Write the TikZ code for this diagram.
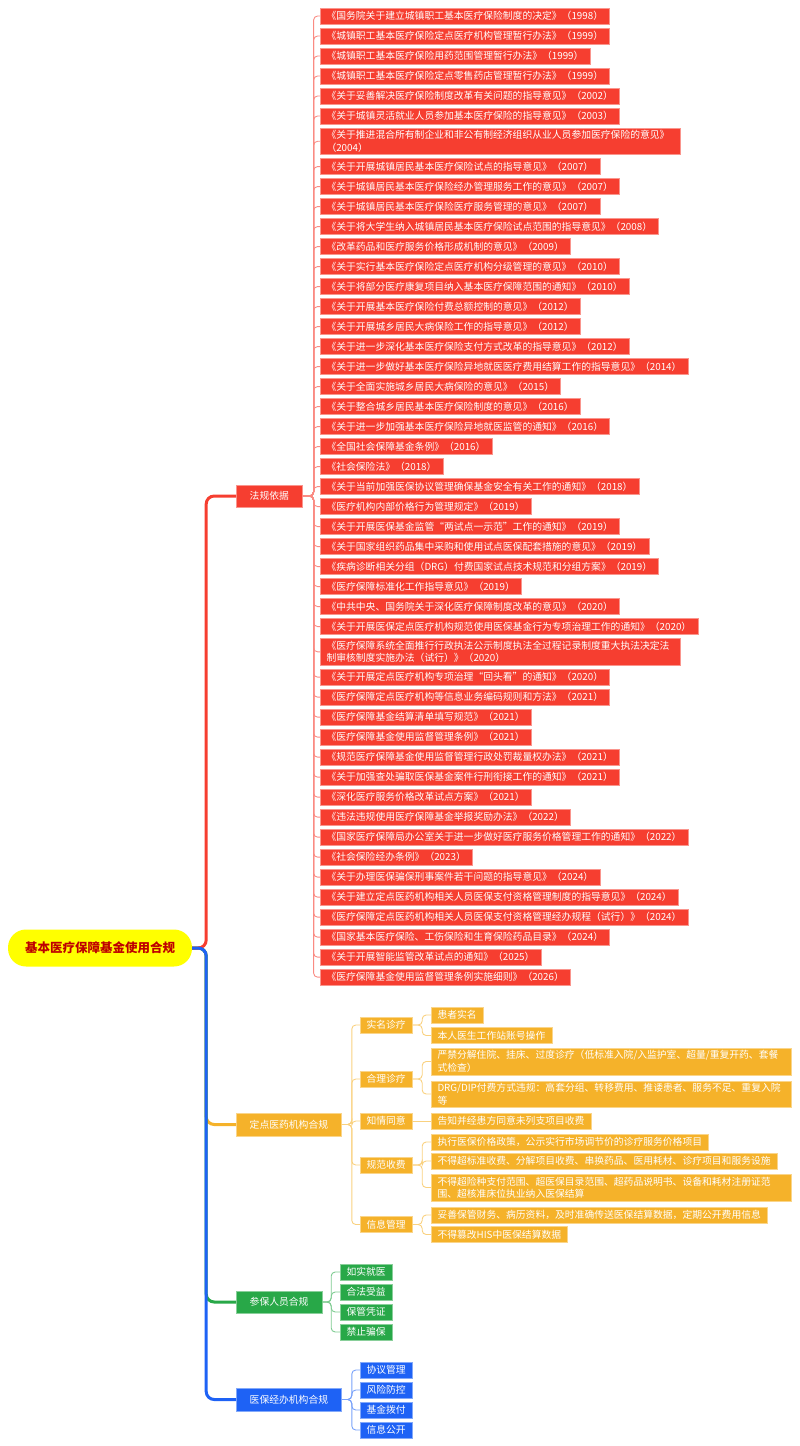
\documentclass[tikz,border=0pt]{standalone}
\usepackage{fontspec}
\setmainfont{Noto Sans CJK SC}
\usetikzlibrary{positioning}

\definecolor{rootyel}{RGB}{255,255,0}
\definecolor{rootred}{RGB}{190,0,0}
\definecolor{lawred}{RGB}{246,62,48}
\definecolor{siteorg}{RGB}{245,178,42}
\definecolor{insgrn}{RGB}{40,168,72}
\definecolor{agcblu}{RGB}{30,98,245}

\begin{document}
\begin{tikzpicture}[x=1pt, y=-1pt,
    root/.style={rectangle, rounded corners=18pt, fill=rootyel, text=rootred,
                 minimum width=184pt, minimum height=37pt,
                 font=\fontsize{12.5}{15}\selectfont\bfseries},
    topic/.style={rectangle, fill=#1, draw=#1!55!white, text=white, anchor=west,
                  inner xsep=13.5pt, minimum height=22.5pt,
                  font=\fontsize{9.8}{12.5}\selectfont},
    leaf/.style={rectangle, fill=#1, draw=#1!55!white, text=white, anchor=west,
                 inner xsep=6.5pt, inner ysep=1pt, outer sep=0pt, minimum height=16pt,
                 font=\fontsize{9.8}{12.5}\selectfont},
    wide/.style={text width=347pt, align=left, inner ysep=2.4pt},
    next/.style={below=4pt of #1.south west, anchor=north west},
    trunk/.style={draw=#1, line width=3pt, rounded corners=8pt},
    link/.style={draw=#1!60!white, line width=0.9pt, rounded corners=4pt},
]
\useasboundingbox (0,0) rectangle (800,1446);

% ---------- Root + main topics ----------
\node[root] (root) at (100,948) {基本医疗保障基金使用合规};
\node[topic=lawred]  (law)     at (236,496)    {法规依据};
\node[topic=siteorg] (site)    at (236,1124.5) {定点医药机构合规};
\node[topic=insgrn]  (insured) at (236,1302)   {参保人员合规};
\node[topic=agcblu]  (agency)  at (236,1399.5) {医保经办机构合规};

% ---------- Laws and rules (top -> bottom) ----------
\node[leaf=lawred] (r1) at (320,16) {《国务院关于建立城镇职工基本医疗保险制度的决定》（1998）};
\node[leaf=lawred, next=r1]  (r2)  {《城镇职工基本医疗保险定点医疗机构管理暂行办法》（1999）};
\node[leaf=lawred, next=r2]  (r3)  {《城镇职工基本医疗保险用药范围管理暂行办法》（1999）};
\node[leaf=lawred, next=r3]  (r4)  {《城镇职工基本医疗保险定点零售药店管理暂行办法》（1999）};
\node[leaf=lawred, next=r4]  (r5)  {《关于妥善解决医疗保险制度改革有关问题的指导意见》（2002）};
\node[leaf=lawred, next=r5]  (r6)  {《关于城镇灵活就业人员参加基本医疗保险的指导意见》（2003）};
\node[leaf=lawred, wide, next=r6] (r7) {《关于推进混合所有制企业和非公有制经济组织从业人员参加医疗保险的意见》\\（2004）};
\node[leaf=lawred, next=r7]  (r8)  {《关于开展城镇居民基本医疗保险试点的指导意见》（2007）};
\node[leaf=lawred, next=r8]  (r9)  {《关于城镇居民基本医疗保险经办管理服务工作的意见》（2007）};
\node[leaf=lawred, next=r9]  (r10) {《关于城镇居民基本医疗保险医疗服务管理的意见》（2007）};
\node[leaf=lawred, next=r10] (r11) {《关于将大学生纳入城镇居民基本医疗保险试点范围的指导意见》（2008）};
\node[leaf=lawred, next=r11] (r12) {《改革药品和医疗服务价格形成机制的意见》（2009）};
\node[leaf=lawred, next=r12] (r13) {《关于实行基本医疗保险定点医疗机构分级管理的意见》（2010）};
\node[leaf=lawred, next=r13] (r14) {《关于将部分医疗康复项目纳入基本医疗保障范围的通知》（2010）};
\node[leaf=lawred, next=r14] (r15) {《关于开展基本医疗保险付费总额控制的意见》（2012）};
\node[leaf=lawred, next=r15] (r16) {《关于开展城乡居民大病保险工作的指导意见》（2012）};
\node[leaf=lawred, next=r16] (r17) {《关于进一步深化基本医疗保险支付方式改革的指导意见》（2012）};
\node[leaf=lawred, next=r17] (r18) {《关于进一步做好基本医疗保险异地就医医疗费用结算工作的指导意见》（2014）};
\node[leaf=lawred, next=r18] (r19) {《关于全面实施城乡居民大病保险的意见》（2015）};
\node[leaf=lawred, next=r19] (r20) {《关于整合城乡居民基本医疗保险制度的意见》（2016）};
\node[leaf=lawred, next=r20] (r21) {《关于进一步加强基本医疗保险异地就医监管的通知》（2016）};
\node[leaf=lawred, next=r21] (r22) {《全国社会保障基金条例》（2016）};
\node[leaf=lawred, next=r22] (r23) {《社会保险法》（2018）};
\node[leaf=lawred, next=r23] (r24) {《关于当前加强医保协议管理确保基金安全有关工作的通知》（2018）};
\node[leaf=lawred, next=r24] (r25) {《医疗机构内部价格行为管理规定》（2019）};
\node[leaf=lawred, next=r25] (r26) {《关于开展医保基金监管“两试点一示范”工作的通知》（2019）};
\node[leaf=lawred, next=r26] (r27) {《关于国家组织药品集中采购和使用试点医保配套措施的意见》（2019）};
\node[leaf=lawred, next=r27] (r28) {《疾病诊断相关分组（DRG）付费国家试点技术规范和分组方案》（2019）};
\node[leaf=lawred, next=r28] (r29) {《医疗保障标准化工作指导意见》（2019）};
\node[leaf=lawred, next=r29] (r30) {《中共中央、国务院关于深化医疗保障制度改革的意见》（2020）};
\node[leaf=lawred, next=r30] (r31) {《关于开展医保定点医疗机构规范使用医保基金行为专项治理工作的通知》（2020）};
\node[leaf=lawred, wide, next=r31] (r32) {《医疗保障系统全面推行行政执法公示制度执法全过程记录制度重大执法决定法\\制审核制度实施办法（试行）》（2020）};
\node[leaf=lawred, next=r32] (r33) {《关于开展定点医疗机构专项治理“回头看”的通知》（2020）};
\node[leaf=lawred, next=r33] (r34) {《医疗保障定点医疗机构等信息业务编码规则和方法》（2021）};
\node[leaf=lawred, next=r34] (r35) {《医疗保障基金结算清单填写规范》（2021）};
\node[leaf=lawred, next=r35] (r36) {《医疗保障基金使用监督管理条例》（2021）};
\node[leaf=lawred, next=r36] (r37) {《规范医疗保障基金使用监督管理行政处罚裁量权办法》（2021）};
\node[leaf=lawred, next=r37] (r38) {《关于加强查处骗取医保基金案件行刑衔接工作的通知》（2021）};
\node[leaf=lawred, next=r38] (r39) {《深化医疗服务价格改革试点方案》（2021）};
\node[leaf=lawred, next=r39] (r40) {《违法违规使用医疗保障基金举报奖励办法》（2022）};
\node[leaf=lawred, next=r40] (r41) {《国家医疗保障局办公室关于进一步做好医疗服务价格管理工作的通知》（2022）};
\node[leaf=lawred, next=r41] (r42) {《社会保险经办条例》（2023）};
\node[leaf=lawred, next=r42] (r43) {《关于办理医保骗保刑事案件若干问题的指导意见》（2024）};
\node[leaf=lawred, next=r43] (r44) {《关于建立定点医药机构相关人员医保支付资格管理制度的指导意见》（2024）};
\node[leaf=lawred, next=r44] (r45) {《医疗保障定点医药机构相关人员医保支付资格管理经办规程（试行）》（2024）};
\node[leaf=lawred, next=r45] (r46) {《国家基本医疗保险、工伤保险和生育保险药品目录》（2024）};
\node[leaf=lawred, next=r46] (r47) {《关于开展智能监管改革试点的通知》（2025）};
\node[leaf=lawred, next=r47] (r48) {《医疗保障基金使用监督管理条例实施细则》（2026）};

% ---------- Designated institutions ----------
\node[leaf=siteorg] (realname) at (360,1025)   {实名诊疗};
\node[leaf=siteorg] (reason)   at (360,1079)   {合理诊疗};
\node[leaf=siteorg] (consent)  at (360,1121)   {知情同意};
\node[leaf=siteorg] (charge)   at (360,1165)   {规范收费};
\node[leaf=siteorg] (infomgmt) at (360,1224.5) {信息管理};

\node[leaf=siteorg] (patient)  at (431,1015)   {患者实名};
\node[leaf=siteorg] (account)  at (431,1035.5) {本人医生工作站账号操作};
\node[leaf=siteorg, wide] (overtreat) at (431,1061.5) {严禁分解住院、挂床、过度诊疗（低标准入院/入监护室、超量/重复开药、套餐\\式检查）};
\node[leaf=siteorg, wide] (drg)  at (431,1094)   {DRG/DIP付费方式违规：高套分组、转移费用、推诿患者、服务不足、重复入院\\等};
\node[leaf=siteorg] (inform)   at (431,1121)   {告知并经患方同意未列支项目收费};
\node[leaf=siteorg] (pricepol) at (431,1142)   {执行医保价格政策，公示实行市场调节价的诊疗服务价格项目};
\node[leaf=siteorg] (overfee)  at (431,1161)   {不得超标准收费、分解项目收费、串换药品、医用耗材、诊疗项目和服务设施};
\node[leaf=siteorg, wide] (overscope) at (431,1187.5) {不得超险种支付范围、超医保目录范围、超药品说明书、设备和耗材注册证范\\围、超核准床位执业纳入医保结算};
\node[leaf=siteorg] (records)  at (431,1215)   {妥善保管财务、病历资料，及时准确传送医保结算数据，定期公开费用信息};
\node[leaf=siteorg] (nohis)    at (431,1234.5) {不得篡改HIS中医保结算数据};

% ---------- Insured persons ----------
\node[leaf=insgrn] (honest) at (340,1272) {如实就医};
\node[leaf=insgrn] (lawful) at (340,1292) {合法受益};
\node[leaf=insgrn] (keep)   at (340,1312) {保管凭证};
\node[leaf=insgrn] (nofraud)at (340,1332) {禁止骗保};

% ---------- Agencies ----------
\node[leaf=agcblu] (contract) at (360,1370) {协议管理};
\node[leaf=agcblu] (risk)     at (360,1390) {风险防控};
\node[leaf=agcblu] (payout)   at (360,1410) {基金拨付};
\node[leaf=agcblu] (publish)  at (360,1430) {信息公开};

% ---------- Trunks from root ----------
\draw[trunk=siteorg] (root.east) -- ++(14,0) |- (site.west);
\draw[trunk=insgrn]  (root.east) -- ++(14,0) |- (insured.west);
\draw[trunk=lawred]  (root.east) -- ++(14,0) |- (law.west);
\draw[trunk=agcblu]  (root.east) -- ++(14,0) |- (agency.west);

% ---------- Law links ----------
\draw[link=lawred] (law.east) -- ++(11,0) |- (r1.west);
\draw[link=lawred] (law.east) -- ++(11,0) |- (r2.west);
\draw[link=lawred] (law.east) -- ++(11,0) |- (r3.west);
\draw[link=lawred] (law.east) -- ++(11,0) |- (r4.west);
\draw[link=lawred] (law.east) -- ++(11,0) |- (r5.west);
\draw[link=lawred] (law.east) -- ++(11,0) |- (r6.west);
\draw[link=lawred] (law.east) -- ++(11,0) |- (r7.west);
\draw[link=lawred] (law.east) -- ++(11,0) |- (r8.west);
\draw[link=lawred] (law.east) -- ++(11,0) |- (r9.west);
\draw[link=lawred] (law.east) -- ++(11,0) |- (r10.west);
\draw[link=lawred] (law.east) -- ++(11,0) |- (r11.west);
\draw[link=lawred] (law.east) -- ++(11,0) |- (r12.west);
\draw[link=lawred] (law.east) -- ++(11,0) |- (r13.west);
\draw[link=lawred] (law.east) -- ++(11,0) |- (r14.west);
\draw[link=lawred] (law.east) -- ++(11,0) |- (r15.west);
\draw[link=lawred] (law.east) -- ++(11,0) |- (r16.west);
\draw[link=lawred] (law.east) -- ++(11,0) |- (r17.west);
\draw[link=lawred] (law.east) -- ++(11,0) |- (r18.west);
\draw[link=lawred] (law.east) -- ++(11,0) |- (r19.west);
\draw[link=lawred] (law.east) -- ++(11,0) |- (r20.west);
\draw[link=lawred] (law.east) -- ++(11,0) |- (r21.west);
\draw[link=lawred] (law.east) -- ++(11,0) |- (r22.west);
\draw[link=lawred] (law.east) -- ++(11,0) |- (r23.west);
\draw[link=lawred] (law.east) -- ++(11,0) |- (r24.west);
\draw[link=lawred] (law.east) -- ++(11,0) |- (r25.west);
\draw[link=lawred] (law.east) -- ++(11,0) |- (r26.west);
\draw[link=lawred] (law.east) -- ++(11,0) |- (r27.west);
\draw[link=lawred] (law.east) -- ++(11,0) |- (r28.west);
\draw[link=lawred] (law.east) -- ++(11,0) |- (r29.west);
\draw[link=lawred] (law.east) -- ++(11,0) |- (r30.west);
\draw[link=lawred] (law.east) -- ++(11,0) |- (r31.west);
\draw[link=lawred] (law.east) -- ++(11,0) |- (r32.west);
\draw[link=lawred] (law.east) -- ++(11,0) |- (r33.west);
\draw[link=lawred] (law.east) -- ++(11,0) |- (r34.west);
\draw[link=lawred] (law.east) -- ++(11,0) |- (r35.west);
\draw[link=lawred] (law.east) -- ++(11,0) |- (r36.west);
\draw[link=lawred] (law.east) -- ++(11,0) |- (r37.west);
\draw[link=lawred] (law.east) -- ++(11,0) |- (r38.west);
\draw[link=lawred] (law.east) -- ++(11,0) |- (r39.west);
\draw[link=lawred] (law.east) -- ++(11,0) |- (r40.west);
\draw[link=lawred] (law.east) -- ++(11,0) |- (r41.west);
\draw[link=lawred] (law.east) -- ++(11,0) |- (r42.west);
\draw[link=lawred] (law.east) -- ++(11,0) |- (r43.west);
\draw[link=lawred] (law.east) -- ++(11,0) |- (r44.west);
\draw[link=lawred] (law.east) -- ++(11,0) |- (r45.west);
\draw[link=lawred] (law.east) -- ++(11,0) |- (r46.west);
\draw[link=lawred] (law.east) -- ++(11,0) |- (r47.west);
\draw[link=lawred] (law.east) -- ++(11,0) |- (r48.west);

% ---------- Institution links ----------
\draw[link=siteorg] (site.east) -- ++(10,0) |- (realname.west);
\draw[link=siteorg] (site.east) -- ++(10,0) |- (reason.west);
\draw[link=siteorg] (site.east) -- ++(10,0) |- (consent.west);
\draw[link=siteorg] (site.east) -- ++(10,0) |- (charge.west);
\draw[link=siteorg] (site.east) -- ++(10,0) |- (infomgmt.west);
\draw[link=siteorg] (realname.east) -- ++(10,0) |- (patient.west);
\draw[link=siteorg] (realname.east) -- ++(10,0) |- (account.west);
\draw[link=siteorg] (reason.east)   -- ++(10,0) |- (overtreat.west);
\draw[link=siteorg] (reason.east)   -- ++(10,0) |- (drg.west);
\draw[link=siteorg] (consent.east)  -- (inform.west);
\draw[link=siteorg] (charge.east)   -- ++(10,0) |- (pricepol.west);
\draw[link=siteorg] (charge.east)   -- ++(10,0) |- (overfee.west);
\draw[link=siteorg] (charge.east)   -- ++(10,0) |- (overscope.west);
\draw[link=siteorg] (infomgmt.east) -- ++(10,0) |- (records.west);
\draw[link=siteorg] (infomgmt.east) -- ++(10,0) |- (nohis.west);

% ---------- Insured + agency links ----------
\draw[link=insgrn] (insured.east) -- ++(9,0) |- (honest.west);
\draw[link=insgrn] (insured.east) -- ++(9,0) |- (lawful.west);
\draw[link=insgrn] (insured.east) -- ++(9,0) |- (keep.west);
\draw[link=insgrn] (insured.east) -- ++(9,0) |- (nofraud.west);
\draw[link=agcblu] (agency.east) -- ++(10,0) |- (contract.west);
\draw[link=agcblu] (agency.east) -- ++(10,0) |- (risk.west);
\draw[link=agcblu] (agency.east) -- ++(10,0) |- (payout.west);
\draw[link=agcblu] (agency.east) -- ++(10,0) |- (publish.west);

\end{tikzpicture}
\end{document}
